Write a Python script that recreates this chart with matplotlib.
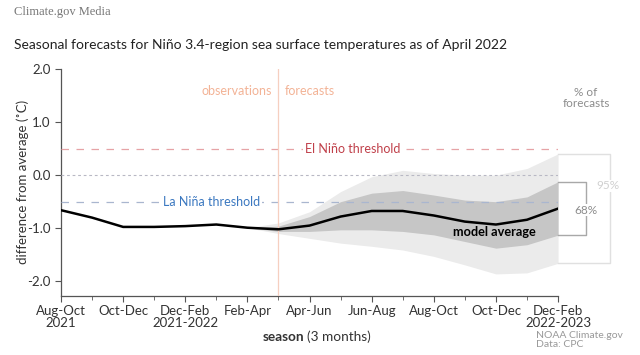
import matplotlib
matplotlib.use("Agg")
import matplotlib.pyplot as plt
import numpy as np

plt.rcParams['font.family'] = ['Lato', 'DejaVu Sans']

# monthly 3-month seasons, Aug-Oct 2021 .. Dec-Feb 2022-2023
seasons = ['Aug-Oct', 'Sep-Nov', 'Oct-Dec', 'Nov-Jan', 'Dec-Feb', 'Jan-Mar',
           'Feb-Apr', 'Mar-May', 'Apr-Jun', 'May-Jul', 'Jun-Aug', 'Jul-Sep',
           'Aug-Oct', 'Sep-Nov', 'Oct-Dec', 'Nov-Jan', 'Dec-Feb']
tick_labels = ['Aug-Oct\n2021', 'Oct-Dec', 'Dec-Feb\n2021-2022', 'Feb-Apr',
               'Apr-Jun', 'Jun-Aug', 'Aug-Oct', 'Oct-Dec', 'Dec-Feb\n2022-2023']

# observed + model average anomaly (deg C)
anomaly = [-0.66, -0.80, -0.975, -0.975, -0.96, -0.93, -0.99, -1.02, -0.95,
           -0.78, -0.675, -0.675, -0.76, -0.875, -0.93, -0.84, -0.63]

# forecast spread, from Feb-Apr (index 6) to Dec-Feb
band_start = 6
upper95 = [-0.99, -0.90, -0.69, -0.31, -0.03, 0.09, 0.03, 0.0, 0.0, 0.125, 0.40]
lower95 = [-0.99, -1.10, -1.19, -1.28, -1.34, -1.41, -1.53, -1.69, -1.86, -1.84, -1.66]
upper68 = [-0.99, -0.96, -0.78, -0.50, -0.34, -0.29, -0.375, -0.47, -0.50, -0.41, -0.125]
lower68 = [-0.99, -1.06, -1.06, -1.03, -1.03, -1.06, -1.125, -1.25, -1.375, -1.31, -1.13]

el_nino = 0.5
la_nina = -0.5
forecast_start = 7  # Mar-May

x = np.arange(len(seasons))
xb = x[band_start:]

fig = plt.figure(figsize=(6.4, 3.55), dpi=100)
ax = fig.add_axes([0.0953, 0.167, 0.872 - 0.0953, 0.806 - 0.167])

ax.fill_between(xb, lower95, upper95, color='#ebebeb', lw=0, zorder=1)
ax.fill_between(xb, lower68, upper68, color='#c6c6c6', lw=0, zorder=2)

ax.axhline(el_nino, color='#e6a3a6', lw=0.9, ls=(0, (6, 6)), zorder=3)
ax.axhline(0.0, color='#b8b8c4', lw=0.8, ls=(0, (2.5, 2.5)), zorder=3)
ax.axhline(la_nina, color='#a9b6cf', lw=0.9, ls=(0, (6, 6)), zorder=3)
ax.axvline(forecast_start, color='#f6cfc0', lw=0.9, zorder=3)

ax.plot(x, anomaly, color='black', lw=1.8, zorder=5)

ax.text(9.4, el_nino, 'El Niño threshold', color='#c0404a', fontsize=9,
        ha='center', va='center', zorder=4,
        bbox=dict(fc='white', ec='none', pad=1.5))
ax.text(4.85, la_nina, 'La Niña threshold', color='#3b78c0', fontsize=9,
        ha='center', va='center', zorder=4,
        bbox=dict(fc='white', ec='none', pad=1.5))
ax.text(forecast_start - 0.2, 1.58, 'observations', color='#f3b396',
        fontsize=9, ha='right', va='center')
ax.text(forecast_start + 0.2, 1.58, 'forecasts', color='#f3b396',
        fontsize=9, ha='left', va='center')
ax.text(13.94, -1.08, 'model average', fontsize=9.2, fontweight='bold',
        ha='center', va='center', zorder=6)

# bracket on the right
last = len(seasons) - 1
ax.plot([last, last + 1.68, last + 1.68, last], [upper95[-1], upper95[-1], lower95[-1], lower95[-1]],
        color='#e0e0e0', lw=1.0, clip_on=False)
ax.plot([last, last + 0.9, last + 0.9, last], [upper68[-1], upper68[-1], lower68[-1], lower68[-1]],
        color='#a8a8a8', lw=1.0, clip_on=False)
ax.text(last + 1.62, -0.2, '95%', color='#d0d0d0', fontsize=8.5, ha='center',
        va='center', bbox=dict(fc='white', ec='none', pad=0.5))
ax.text(last + 0.9, -0.66, '68%', color='#8c8c8c', fontsize=8.5, ha='center',
        va='center', bbox=dict(fc='white', ec='none', pad=0.5))
ax.text(last + 0.9, 1.45, '% of\nforecasts', color='#8c8c8c', fontsize=8.5,
        ha='center', va='center', linespacing=0.95)

ax.set_xlim(0, last)
ax.set_ylim(-2.27, 2.0)
ax.set_yticks([2.0, 1.0, 0.0, -1.0, -2.0])
ax.set_yticklabels(['2.0', '1.0', '0.0', '-1.0', '-2.0'])
ax.set_xticks(x[::2])
ax.set_xticklabels(tick_labels, linespacing=0.92)
ax.set_xticks(x, minor=True)
ax.tick_params(axis='both', colors='#555555', labelcolor='#333333', labelsize=9.5,
               length=4, width=0.8, direction='out')
ax.tick_params(axis='x', pad=3)
ax.tick_params(axis='x', which='minor', length=3, colors='#555555')
for s in ['top', 'right']:
    ax.spines[s].set_visible(False)
for s in ['left', 'bottom']:
    ax.spines[s].set_color('#555555')
    ax.spines[s].set_linewidth(0.9)

ax.set_ylabel('difference from average (˚C)', fontsize=9.5, color='#333333')
ax.yaxis.set_label_coords(-0.064, 0.5)

fig.text(14 / 640, 1 - 12 / 355, 'Climate.gov Media', family='Liberation Serif',
         fontsize=9, color='#777777', va='center')
fig.text(14 / 640, 1 - 45 / 355,
         'Seasonal forecasts for Niño 3.4-region sea surface temperatures as of April 2022',
         fontsize=10, color='#222222', va='center')
fig.text(304 / 640, 1 - 337 / 355, 'season', fontsize=9.8, fontweight='bold',
         color='#333333', ha='right', va='center')
fig.text(307 / 640, 1 - 337 / 355, '(3 months)', fontsize=9.8, color='#333333',
         ha='left', va='center')
fig.text(536 / 640, 1 - 340 / 355, 'NOAA Climate.gov\nData: CPC', fontsize=7.5,
         color='#999999', ha='left', va='center', linespacing=1.1)

fig.savefig('out.png', dpi=100)
